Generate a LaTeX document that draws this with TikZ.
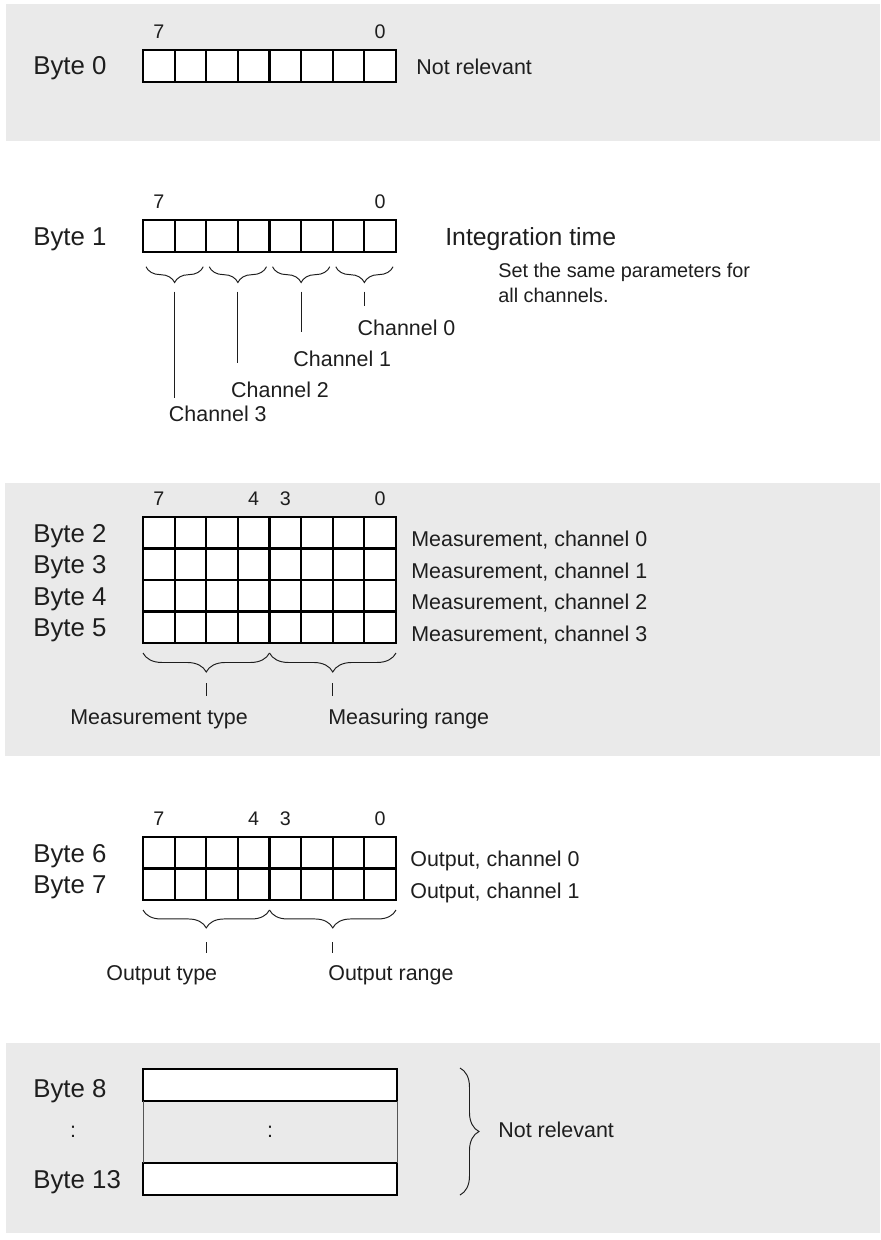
\documentclass[tikz,border=0pt]{standalone}
\usepackage{fontspec}
\setmainfont{Liberation Sans}
\usetikzlibrary{positioning, calc, decorations.pathreplacing}
\definecolor{Panel}{HTML}{EAEAEA}
\definecolor{Ink}  {HTML}{1E1E1E}
\definecolor{Rule} {HTML}{555555}
\newcommand{\bytesize}{\fontsize{14.7}{17.6}\selectfont}
\newcommand{\titlesize}{\fontsize{14.1}{17}\selectfont}
\newcommand{\lblsize}{\fontsize{12.2}{14.6}\selectfont}
\newcommand{\bitsize}{\fontsize{11.2}{13.4}\selectfont}
\newcommand{\notesize}{\fontsize{11.3}{14.2}\selectfont}
\tikzset{
  cell/.style={draw=black, fill=white, line width=1.2pt, minimum width=0.6325cm, minimum height=0.63cm, inner sep=0pt, outer sep=0pt},
  bitno/.style={font=\bitsize, text=Ink, inner sep=0pt},
  bytelbl/.style={font=\bytesize, text=Ink, inner sep=0pt, anchor=base west},
  lbl/.style={font=\lblsize, text=Ink, inner sep=0pt, anchor=base west},
  curly/.style={draw=Ink, line width=0.55pt, decorate, decoration={brace, mirror, amplitude=#1}},
  curlyright/.style={draw=Ink, line width=0.55pt, decorate, decoration={brace, amplitude=#1}},
  lead/.style={draw=Ink, line width=0.7pt}
}
\begin{document}
\begin{tikzpicture}[x=0.02cm, y=-0.02cm, node distance=0.22cm]
  \useasboundingbox (0,0) rectangle (880,1240);
  \fill[Panel] (6,4) rectangle (880,141);
  \fill[Panel] (5,483) rectangle (880,756);
  \fill[Panel] (6,1043) rectangle (880,1233);

  \foreach \b in {7,...,0}
    \node[cell] (b0-\b) at ({143+(7.5-\b)*31.625}, 66) {};
  \node[bitno, above=of b0-7] (n0-7) {7};
  \node[bitno, above=of b0-0] (n0-0) {0};
  \node[bytelbl] (byte0) at (33,74.5) {Byte 0};
  \node[lbl] (nr0) at (416,75) {Not relevant};

  \foreach \b in {7,...,0}
    \node[cell] (b1-\b) at ({143+(7.5-\b)*31.625}, 236) {};
  \node[bitno, above=of b1-7] (n1-7) {7};
  \node[bitno, above=of b1-0] (n1-0) {0};
  \node[bytelbl] (byte1) at (33,245.5) {Byte 1};
  \node[bytelbl, font=\titlesize] (integ) at (445,245) {Integration time};
  \node[font=\notesize, text=Ink, inner sep=0pt, align=left, anchor=north west] (note) at (498,262.5) {Set the same parameters for\\all channels.};
  \foreach \hi/\lo/\ch in {7/6/3, 5/4/2, 3/2/1, 1/0/0} {
    \draw[curly=9pt] ([shift={(3,15)}]b1-\hi.south west) -- ([shift={(-3,15)}]b1-\lo.south east);
    \coordinate (s\ch) at ($(b1-\hi.south east)+(0,40)$);
  }
  \draw[lead] (s3) -- ++(0,106);
  \draw[lead] (s2) -- ++(0,71);
  \draw[lead] (s1) -- ++(0,40);
  \draw[lead] (s0) -- ++(0,14);
  \node[lbl] (ch3) at ($(s3)+(-6,130)$) {Channel 3};
  \node[lbl] (ch2) at ($(s2)+(-7,106)$) {Channel 2};
  \node[lbl] (ch1) at ($(s1)+(-8,75)$) {Channel 1};
  \node[lbl] (ch0) at ($(s0)+(-7,44)$) {Channel 0};

  \foreach \r in {2,...,5}
    \foreach \b in {7,...,0}
      \node[cell] (b\r-\b) at ({143+(7.5-\b)*31.625}, {517+(\r-1.5)*31.5}) {};
  \foreach \b in {7,4,3,0}
    \node[bitno, above=of b2-\b] (n2-\b) {\b};
  \foreach \r/\c in {2/0, 3/1, 4/2, 5/3} {
    \node[bytelbl] (byte\r) at (33, {517+(\r-1.5)*31.5+9.5}) {Byte \r};
    \node[lbl] (meas\c) at (411, {517+(\r-1)*31.5-2}) {Measurement, channel \c};
  }
  \draw[curly=10.8pt] ([shift={(0,10)}]b5-7.south west) -- ([shift={(0,10)}]b5-4.south east);
  \draw[curly=10.8pt] ([shift={(0,10)}]b5-3.south west) -- ([shift={(0,10)}]b5-0.south east);
  \coordinate (mt) at ($(b5-7.south west)!0.5!(b5-4.south east)+(0,40)$);
  \coordinate (mr) at ($(b5-3.south west)!0.5!(b5-0.south east)+(0,40)$);
  \draw[lead] (mt) -- ++(0,13);
  \draw[lead] (mr) -- ++(0,13);
  \node[lbl] (mtype) at (70,724) {Measurement type};
  \node[lbl] (mrange) at (328,724) {Measuring range};

  \foreach \r in {6,7}
    \foreach \b in {7,...,0}
      \node[cell] (b\r-\b) at ({143+(7.5-\b)*31.625}, {837+(\r-5.5)*31.5}) {};
  \foreach \b in {7,4,3,0}
    \node[bitno, above=of b6-\b] (n6-\b) {\b};
  \foreach \r/\c in {6/0, 7/1} {
    \node[bytelbl] (byte\r) at (33, {837+(\r-5.5)*31.5+9.5}) {Byte \r};
    \node[lbl] (out\c) at (410, {837+(\r-5)*31.5-2}) {Output, channel \c};
  }
  \draw[curly=10.2pt] ([shift={(0,10)}]b7-7.south west) -- ([shift={(0,10)}]b7-4.south east);
  \draw[curly=10.2pt] ([shift={(0,10)}]b7-3.south west) -- ([shift={(0,10)}]b7-0.south east);
  \coordinate (ot) at ($(b7-7.south west)!0.5!(b7-4.south east)+(0,42)$);
  \coordinate (or) at ($(b7-3.south west)!0.5!(b7-0.south east)+(0,42)$);
  \draw[lead] (ot) -- ++(0,11);
  \draw[lead] (or) -- ++(0,11);
  \node[lbl] (otype) at (106,980) {Output type};
  \node[lbl] (orange) at (328,980) {Output range};

  \node[cell, minimum width=5.08cm, minimum height=0.64cm] (b8) at (270,1085) {};
  \node[cell, minimum width=5.08cm, minimum height=0.64cm] (b13) at (270,1179) {};
  \draw[Rule, line width=0.5pt] (b8.south west) -- (b13.north west);
  \draw[Rule, line width=0.5pt] (b8.south east) -- (b13.north east);
  \node[lbl, anchor=center] (gap) at (270,1132) {:};
  \node[lbl, anchor=center] (gapl) at (73,1132) {:};
  \node[bytelbl] (byte8) at (33,1097.5) {Byte 8};
  \node[bytelbl] (byte13) at (33,1188.5) {Byte 13};
  \coordinate (nrtop) at (460,1068);
  \coordinate (nrbot) at (460,1195);
  \draw[curlyright=10.8pt] (nrtop) -- (nrbot);
  \node[lbl] (nr8) at (498,1137) {Not relevant};
\end{tikzpicture}
\end{document}
